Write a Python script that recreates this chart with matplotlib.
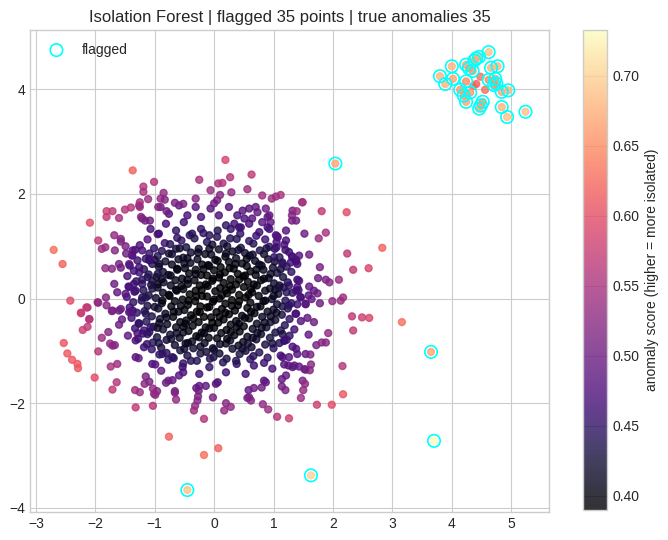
import numpy as np
import matplotlib
matplotlib.use("Agg")
import matplotlib.pyplot as plt

# (x, y, anomaly score)
core_pts = [
    (-0.95, 1.23, .48), (-0.62, 1.16, .45), (-0.41, 1.21, .45), (-0.18, 1.25, .45), (0.05, 1.18, .44), (0.27, 1.15, .44), (0.44, 1.24, .45), (0.71, 1.20, .46),
    (-1.12, 1.13, .48), (-0.83, 1.06, .46), (-0.55, 1.11, .45), (-0.33, 1.15, .44), (-0.12, 1.08, .44), (0.16, 1.05, .43), (0.38, 1.14, .44), (0.59, 1.10, .45), (0.86, 1.13, .46), (1.05, 1.08, .47),
    (-1.25, 1.02, .47), (-1.01, 0.96, .45), (-0.74, 1.04, .44), (-0.47, 0.98, .43), (-0.26, 0.95, .42), (-0.03, 1.03, .42), (0.22, 1.00, .42), (0.45, 0.97, .43), (0.66, 1.05, .44), (0.93, 0.99, .45), (1.18, 1.03, .47),
    (-1.33, 0.93, .47), (-1.09, 0.86, .45), (-0.88, 0.91, .44), (-0.64, 0.95, .43), (-0.39, 0.88, .42), (-0.15, 0.85, .41), (0.08, 0.94, .41), (0.31, 0.90, .41), (0.52, 0.87, .42), (0.77, 0.92, .43), (1.02, 0.95, .45), (1.26, 0.89, .46),
    (-1.38, 0.83, .47), (-1.15, 0.76, .45), (-0.95, 0.81, .44), (-0.71, 0.85, .42), (-0.52, 0.78, .42), (-0.28, 0.75, .41), (-0.05, 0.84, .41), (0.19, 0.80, .40), (0.37, 0.77, .41), (0.60, 0.82, .41), (0.84, 0.85, .42), (1.10, 0.79, .44), (1.31, 0.81, .46),
    (-1.29, 0.73, .46), (-1.04, 0.66, .44), (-0.82, 0.71, .42), (-0.60, 0.75, .41), (-0.40, 0.68, .41), (-0.20, 0.65, .40), (0.02, 0.74, .40), (0.25, 0.70, .40), (0.47, 0.67, .40), (0.69, 0.72, .41), (0.91, 0.75, .42), (1.15, 0.69, .44), (1.38, 0.71, .46),
    (-1.42, 0.63, .47), (-1.18, 0.56, .44), (-0.93, 0.61, .42), (-0.71, 0.65, .41), (-0.49, 0.58, .40), (-0.31, 0.55, .40), (-0.10, 0.64, .40), (0.11, 0.60, .39), (0.33, 0.57, .40), (0.55, 0.62, .40), (0.76, 0.65, .41), (0.99, 0.59, .42), (1.22, 0.61, .44),
    (-1.35, 0.53, .46), (-1.10, 0.46, .44), (-0.86, 0.51, .42), (-0.62, 0.55, .41), (-0.42, 0.48, .40), (-0.22, 0.45, .40), (0.00, 0.54, .40), (0.18, 0.50, .39), (0.40, 0.47, .39), (0.61, 0.52, .40), (0.83, 0.55, .41), (1.06, 0.49, .43), (1.30, 0.51, .45),
    (-1.46, 0.43, .47), (-1.21, 0.36, .44), (-0.97, 0.41, .42), (-0.77, 0.45, .41), (-0.54, 0.38, .40), (-0.33, 0.35, .40), (-0.12, 0.44, .39), (0.08, 0.40, .39), (0.28, 0.37, .39), (0.49, 0.42, .40), (0.70, 0.45, .40), (0.92, 0.39, .41), (1.16, 0.41, .43), (1.40, 0.36, .46),
    (-1.31, 0.33, .45), (-1.06, 0.26, .43), (-0.85, 0.31, .42), (-0.65, 0.35, .41), (-0.44, 0.28, .40), (-0.24, 0.25, .39), (-0.03, 0.34, .39), (0.16, 0.30, .39), (0.37, 0.27, .39), (0.57, 0.32, .40), (0.79, 0.35, .40), (1.01, 0.29, .42), (1.24, 0.31, .44),
    (-1.44, 0.23, .46), (-1.19, 0.16, .44), (-0.95, 0.21, .42), (-0.73, 0.25, .41), (-0.52, 0.18, .40), (-0.31, 0.15, .39), (-0.11, 0.24, .39), (0.10, 0.20, .39), (0.30, 0.17, .39), (0.50, 0.22, .39), (0.72, 0.25, .40), (0.94, 0.19, .41), (1.17, 0.21, .43), (1.42, 0.16, .46),
    (-1.34, 0.13, .45), (-1.10, 0.06, .43), (-0.86, 0.11, .41), (-0.63, 0.15, .40), (-0.41, 0.08, .39), (-0.20, 0.05, .39), (0.02, 0.14, .39), (0.22, 0.10, .39), (0.42, 0.07, .39), (0.64, 0.12, .40), (0.86, 0.15, .41), (1.08, 0.09, .42), (1.32, 0.11, .45),
    (-1.47, 0.03, .47), (-1.22, -0.04, .44), (-0.98, 0.01, .42), (-0.75, 0.05, .40), (-0.53, -0.02, .40), (-0.32, -0.05, .39), (-0.12, 0.04, .39), (0.09, 0.00, .392), (0.30, -0.03, .39), (0.53, 0.02, .39), (0.75, 0.05, .40), (0.97, -0.01, .42), (1.20, -0.04, .44), (1.45, 0.03, .46),
    (-1.36, -0.07, .45), (-1.12, -0.14, .43), (-0.88, -0.09, .41), (-0.66, -0.05, .40), (-0.44, -0.12, .39), (-0.23, -0.15, .39), (-0.02, -0.06, .39), (0.19, -0.10, .39), (0.40, -0.13, .39), (0.61, -0.08, .40), (0.83, -0.05, .41), (1.06, -0.11, .42), (1.30, -0.09, .45),
    (-1.42, -0.17, .46), (-1.17, -0.24, .44), (-0.94, -0.19, .42), (-0.72, -0.15, .40), (-0.50, -0.22, .40), (-0.29, -0.25, .39), (-0.08, -0.16, .39), (0.13, -0.20, .39), (0.35, -0.23, .39), (0.56, -0.18, .40), (0.78, -0.15, .40), (1.00, -0.21, .42), (1.24, -0.19, .44),
    (-1.30, -0.27, .45), (-1.05, -0.34, .43), (-0.82, -0.29, .41), (-0.60, -0.25, .40), (-0.39, -0.32, .39), (-0.17, -0.35, .39), (0.04, -0.26, .39), (0.25, -0.30, .39), (0.47, -0.33, .40), (0.68, -0.28, .40), (0.90, -0.25, .41), (1.14, -0.31, .43), (1.37, -0.29, .46),
    (-1.39, -0.37, .46), (-1.14, -0.44, .44), (-0.91, -0.39, .42), (-0.69, -0.35, .40), (-0.47, -0.42, .40), (-0.26, -0.45, .39), (-0.05, -0.36, .39), (0.16, -0.40, .39), (0.37, -0.43, .40), (0.59, -0.38, .40), (0.81, -0.35, .41), (1.03, -0.41, .42), (1.27, -0.39, .45),
    (-1.27, -0.47, .45), (-1.02, -0.54, .43), (-0.79, -0.49, .41), (-0.57, -0.45, .40), (-0.36, -0.52, .40), (-0.14, -0.55, .40), (0.07, -0.46, .39), (0.28, -0.50, .40), (0.50, -0.53, .40), (0.72, -0.48, .41), (0.95, -0.45, .42), (1.19, -0.51, .44),
    (-1.33, -0.57, .46), (-1.09, -0.64, .44), (-0.86, -0.59, .42), (-0.64, -0.55, .41), (-0.43, -0.62, .40), (-0.21, -0.65, .40), (0.00, -0.56, .40), (0.21, -0.60, .40), (0.43, -0.63, .40), (0.65, -0.58, .41), (0.88, -0.55, .42), (1.12, -0.61, .44), (1.35, -0.59, .46),
    (-1.20, -0.67, .45), (-0.96, -0.74, .43), (-0.74, -0.69, .42), (-0.52, -0.65, .41), (-0.30, -0.72, .40), (-0.09, -0.75, .40), (0.12, -0.66, .40), (0.34, -0.70, .40), (0.56, -0.73, .41), (0.79, -0.68, .42), (1.03, -0.65, .43), (1.27, -0.71, .45),
    (-1.28, -0.77, .46), (-1.03, -0.84, .44), (-0.80, -0.79, .42), (-0.58, -0.75, .41), (-0.37, -0.82, .41), (-0.16, -0.85, .41), (0.05, -0.76, .40), (0.27, -0.80, .41), (0.49, -0.83, .41), (0.71, -0.78, .42), (0.94, -0.75, .43), (1.18, -0.81, .45),
    (-1.13, -0.87, .45), (-0.89, -0.94, .43), (-0.66, -0.89, .42), (-0.44, -0.85, .41), (-0.23, -0.92, .41), (-0.02, -0.95, .41), (0.20, -0.86, .41), (0.41, -0.90, .41), (0.63, -0.93, .42), (0.86, -0.88, .43), (1.10, -0.85, .44),
    (-1.05, -0.97, .45), (-0.80, -1.04, .44), (-0.57, -0.99, .43), (-0.35, -0.95, .42), (-0.13, -1.02, .42), (0.09, -1.05, .42), (0.31, -0.96, .42), (0.53, -1.00, .43), (0.76, -1.03, .44), (1.00, -0.95, .45),
    (-0.92, -1.07, .45), (-0.68, -1.14, .44), (-0.45, -1.09, .43), (-0.23, -1.05, .43), (-0.01, -1.12, .43), (0.21, -1.15, .43), (0.43, -1.06, .43), (0.66, -1.10, .44), (0.90, -1.13, .45),
    (-0.77, -1.17, .45), (-0.52, -1.24, .45), (-0.29, -1.19, .44), (-0.07, -1.15, .44), (0.15, -1.22, .44), (0.38, -1.25, .45), (0.61, -1.16, .45), (0.84, -1.23, .46),
    (-0.76, 0.86, .42), (-0.27, 0.88, .41), (0.20, 0.86, .41), (0.65, 0.84, .42),
    (-0.92, 0.66, .42), (-0.50, 0.67, .41), (-0.08, 0.62, .40), (0.36, 0.66, .40), (0.80, 0.63, .41),
    (-0.73, 0.44, .41), (-0.31, 0.47, .40), (0.10, 0.46, .39), (0.52, 0.44, .39), (0.95, 0.47, .41),
    (-0.95, 0.27, .41), (-0.55, 0.24, .40), (-0.14, 0.27, .39), (0.27, 0.24, .39), (0.67, 0.27, .40), (1.10, 0.25, .42),
    (-0.76, 0.07, .40), (-0.30, 0.04, .39), (0.13, 0.06, .39), (0.58, 0.07, .39), (1.00, 0.05, .41),
    (-1.00, -0.16, .42), (-0.56, -0.14, .40), (-0.12, -0.17, .39), (0.30, -0.14, .39), (0.72, -0.16, .40), (1.15, -0.15, .43),
    (-0.80, -0.36, .41), (-0.35, -0.38, .39), (0.09, -0.35, .39), (0.52, -0.37, .40), (0.95, -0.34, .41),
    (-0.95, -0.56, .42), (-0.52, -0.54, .40), (-0.08, -0.57, .40), (0.38, -0.55, .40), (0.80, -0.56, .41),
    (-0.72, -0.77, .42), (-0.25, -0.74, .40), (0.22, -0.77, .40), (0.65, -0.75, .41),
    (-0.50, -0.96, .42), (0.00, -0.98, .42), (0.48, -0.96, .42),
    (-0.58, 0.96, .42), (-0.08, 0.95, .41), (0.41, 0.93, .42), (0.88, 0.96, .43),
    (-1.00, 0.74, .43), (-0.45, 0.77, .41), (0.06, 0.72, .40), (0.55, 0.76, .40), (1.02, 0.71, .42),
    (-0.62, 0.57, .40), (-0.18, 0.56, .40), (0.26, 0.58, .39), (0.71, 0.55, .40), (1.12, 0.56, .42),
    (-0.88, 0.37, .41), (-0.45, 0.36, .40), (-0.02, 0.38, .39), (0.42, 0.36, .39), (0.84, 0.38, .40),
    (-0.64, 0.17, .40), (-0.21, 0.16, .39), (0.20, 0.16, .39), (0.62, 0.18, .39), (1.03, 0.17, .41),
    (-0.87, -0.04, .40), (-0.43, -0.04, .39), (0.00, -0.02, .39), (0.42, -0.05, .39), (0.86, -0.04, .40),
    (-0.68, -0.25, .40), (-0.24, -0.26, .39), (0.19, -0.27, .39), (0.62, -0.25, .39), (1.05, -0.27, .41),
    (-0.92, -0.47, .41), (-0.48, -0.48, .40), (-0.03, -0.46, .39), (0.42, -0.48, .40), (0.85, -0.46, .41),
    (-0.63, -0.66, .41), (-0.17, -0.66, .40), (0.28, -0.64, .40), (0.73, -0.66, .41), (1.15, -0.68, .43),
    (-0.93, -0.85, .43), (-0.48, -0.86, .41), (0.10, -0.87, .41), (0.57, -0.86, .42), (0.98, -0.86, .43),
]

mid_pts = [
    (0.87, 1.72, .50), (0.90, 1.56, .49), (0.81, 1.46, .48), (0.95, 1.46, .49), (0.93, 1.33, .47), (0.73, 1.65, .49), (0.64, 1.53, .48), (0.59, 1.43, .47),
    (0.48, 1.68, .48), (0.51, 1.53, .47), (0.42, 1.36, .46), (0.34, 1.43, .46), (0.28, 1.33, .45), (1.07, 1.17, .47), (1.21, 1.11, .47), (1.05, 0.98, .46),
    (1.01, 0.79, .45), (1.15, 0.66, .45),
    (-1.26, 1.78, .51), (-0.90, 1.75, .50), (-0.76, 1.62, .48), (-0.59, 1.78, .49), (-0.45, 1.59, .47), (-0.31, 1.75, .48), (-0.22, 1.56, .47), (-0.06, 1.72, .48),
    (0.08, 1.59, .47), (0.25, 1.75, .48), (0.39, 1.59, .47), (0.59, 1.72, .48), (0.70, 1.75, .49), (0.93, 1.59, .49), (1.32, 1.68, .51), (1.49, 1.84, .53),
    (-1.21, 1.53, .49), (-1.07, 1.33, .47), (-0.93, 1.24, .46), (-0.81, 1.43, .47), (-0.64, 1.30, .45), (-0.51, 1.46, .46), (-0.37, 1.24, .44), (-0.22, 1.33, .45),
    (-0.08, 1.21, .44), (0.06, 1.30, .44), (0.20, 1.40, .45), (0.45, 1.36, .46), (0.76, 1.27, .46), (0.90, 1.36, .47), (1.04, 1.21, .47), (1.21, 1.30, .48),
    (1.38, 1.49, .50), (1.52, 1.24, .50),
    (-1.32, -1.12, .48), (-1.18, -0.93, .46), (-1.04, -1.25, .47), (-0.87, -1.06, .45), (-0.70, -1.12, .45), (-0.53, -1.31, .46), (-0.39, -1.19, .44), (-0.25, -1.44, .46),
    (-0.08, -1.31, .45), (0.06, -1.60, .47), (0.20, -1.41, .46), (0.37, -1.19, .44), (0.53, -1.44, .46), (0.67, -1.28, .46), (0.84, -1.57, .48), (0.98, -1.34, .47),
    (1.15, -1.12, .47), (1.32, -1.31, .48), (1.49, -1.57, .51), (1.54, -1.06, .49),
    (-1.37, 0.92, .48), (-1.26, 0.60, .46), (-1.35, 0.28, .46), (-1.21, 0.02, .44), (-1.37, -0.23, .46), (-1.26, -0.48, .45), (-1.12, -0.68, .45), (-1.32, -0.80, .47),
    (-1.09, 0.73, .45), (-1.04, 0.34, .43), (-1.15, -0.29, .44),
    (-1.68, 0.28, .50), (-1.63, 0.12, .49), (-1.49, 0.09, .48), (-1.43, 0.22, .47), (-1.82, 0.02, .52), (-1.96, -0.07, .54), (-2.13, -0.17, .56), (-2.24, -0.28, .58),
    (-2.10, -0.39, .56), (-1.71, -0.23, .50), (-1.57, -0.20, .49), (-1.43, -0.26, .48), (-1.32, 0.15, .46), (-1.21, 0.28, .45), (-1.15, 0.02, .44), (-1.04, 0.19, .43),
    (-0.95, 0.47, .43), (-1.12, 0.41, .44), (-1.26, 0.50, .46), (-1.43, 0.66, .48), (-1.38, 0.82, .48), (-1.21, 0.92, .47), (-1.09, 0.76, .46),
    (1.43, 0.82, .48), (1.38, 0.74, .47), (1.32, 0.79, .47), (1.29, 0.69, .46), (1.40, 0.66, .47), (1.20, 0.93, .46), (1.60, 0.84, .50), (1.78, 0.60, .51),
    (1.75, 0.39, .50), (1.88, 0.36, .51), (1.94, 0.31, .52), (2.10, 0.36, .54), (1.60, 0.23, .49), (1.68, 0.15, .49), (1.74, 0.10, .50), (1.78, -0.09, .50),
    (1.99, -0.05, .53), (2.13, -0.04, .54), (2.17, 0.02, .54), (1.43, 0.34, .47), (1.40, 0.22, .47), (1.38, 0.15, .46), (1.46, 0.02, .47), (1.54, -0.10, .48),
    (1.26, 0.25, .45), (1.22, 0.12, .44), (1.09, 0.21, .43), (1.59, 0.06, .48), (1.64, -0.01, .49), (1.46, -0.43, .48), (1.57, -0.37, .49), (1.68, -0.45, .50),
    (1.38, -0.29, .47), (1.26, -0.13, .45), (1.40, -0.11, .46), (1.54, -0.11, .48), (1.92, -0.66, .53), (1.59, -0.69, .49), (1.72, -0.89, .51), (1.81, -0.84, .52),
    (1.88, -0.84, .52), (1.62, -1.07, .51), (1.63, -1.26, .52), (1.54, -1.36, .51), (1.61, -1.37, .52), (1.18, -0.80, .46), (1.22, -0.79, .46), (1.12, -1.09, .47),
    (1.26, -1.12, .48), (1.38, -0.96, .48), (1.32, -0.92, .47), (1.40, -1.06, .48), (1.18, -1.26, .48), (1.25, -1.28, .48), (1.35, -1.28, .49), (1.43, -1.30, .49),
    (1.52, -1.35, .50), (1.14, -1.54, .49), (1.21, -1.47, .49), (1.14, -1.68, .50), (1.20, -1.75, .51), (1.53, -1.63, .53), (1.50, -1.75, .53), (1.46, -1.90, .54),
    (0.87, -1.60, .49), (0.80, -1.70, .50), (0.58, -1.75, .49), (0.67, -1.71, .50), (0.59, -1.89, .51), (0.91, -2.12, .54), (0.82, -2.02, .53), (0.62, -1.95, .52),
    (0.56, -1.90, .51), (0.20, -2.00, .52), (0.28, -2.07, .53), (0.17, -2.14, .53), (-0.02, -1.89, .51), (0.03, -1.63, .48), (-0.14, -1.67, .49), (-0.25, -1.67, .49),
    (-0.30, -1.71, .49), (-0.26, -1.76, .50), (-0.27, -1.87, .51), (-0.28, -1.95, .52), (-0.32, -2.05, .53), (-0.34, -2.14, .54), (-0.64, -1.93, .53), (-0.66, -1.80, .52),
    (-0.52, -1.41, .47), (-0.59, -1.47, .48), (-0.66, -1.77, .51), (-0.70, -1.56, .49), (-0.77, -1.57, .50), (-0.81, -1.61, .50), (-0.89, -1.38, .49), (-0.99, -1.26, .48),
    (-1.09, -1.59, .51), (-1.17, -1.63, .52), (-1.15, -1.49, .51), (-1.27, -1.14, .49),
    (-1.45, -0.71, .49), (-1.29, -0.66, .47), (-1.18, -0.61, .46), (-1.07, -0.55, .45), (-1.95, -0.08, .53), (-1.81, -0.13, .52), (-1.72, -0.24, .51), (-1.60, -0.23, .50),
    (-1.40, -0.26, .48), (-1.55, -0.40, .49), (-1.60, -0.50, .50), (-1.78, -0.64, .52), (-1.89, -0.75, .54), (-1.75, -0.86, .53), (-1.71, -0.90, .53), (-1.67, -0.89, .52),
    (-1.74, -1.30, .55), (-1.63, -1.25, .54), (-1.64, -1.60, .56), (-1.71, -1.74, .57), (-1.33, -1.75, .54), (-1.25, -1.79, .54), (-1.03, -1.72, .53), (-0.99, -1.84, .53),
    (-0.96, -1.77, .52), (-1.01, -1.82, .53),
    (-1.89, 0.95, .54), (-1.83, 0.98, .54), (-1.81, 1.67, .58), (-1.71, 1.67, .57), (-1.81, 1.56, .57), (-1.60, 1.54, .55), (-1.50, 1.70, .56), (-1.40, 1.74, .56),
    (-1.25, 1.84, .55), (-1.25, 1.75, .54), (-1.11, 1.90, .54), (-0.94, 1.75, .52), (-0.80, 1.67, .50), (-0.66, 1.83, .51), (-0.52, 1.81, .51), (-1.23, 1.56, .52),
    (-1.16, 1.49, .51), (-1.08, 1.49, .50), (-1.68, 1.21, .53), (-1.57, 1.14, .52), (-1.57, 1.09, .52), (-1.67, 0.92, .52), (-1.49, 1.00, .51), (-1.48, 0.86, .50),
    (-1.60, 0.66, .51), (-1.57, 0.59, .50), (-1.83, 0.58, .53), (-1.72, 0.57, .52),
    (-0.06, 2.07, .54), (0.07, 2.20, .55), (0.14, 2.21, .56), (0.10, 1.98, .52), (0.05, 1.88, .51), (0.00, 1.82, .50), (-0.31, 1.91, .52), (0.27, 2.32, .56),
    (0.29, 2.03, .53), (0.56, 2.09, .54), (0.81, 1.97, .54), (0.97, 1.91, .54), (1.04, 1.95, .54), (1.12, 1.98, .55), (1.39, 1.67, .54), (1.31, 1.59, .52),
    (1.31, 1.49, .51), (1.06, 1.19, .48), (1.88, 1.26, .55), (1.76, 1.15, .54), (1.48, 1.84, .55),
]

outer_pts = [
    (-1.37, 2.45, .62), (-2.09, 1.45, .60), (-2.70, 0.93, .63), (-2.55, 0.66, .62), (-1.95, 1.11, .57), (-1.19, 2.14, .56), (-1.19, 2.04, .55), (-1.01, 2.23, .56),
    (-0.85, 2.02, .53), (-0.90, 1.91, .53), (-0.83, 1.89, .52), (-0.25, 2.27, .55), (0.19, 2.65, .59), (0.63, 2.37, .57), (1.81, 1.67, .57), (2.23, 1.65, .60),
    (2.83, 0.97, .62), (2.24, 0.86, .57), (2.34, 0.55, .57), (2.60, 0.58, .59), (2.32, -0.34, .57), (2.49, -0.36, .58), (2.61, -0.37, .59), (3.16, -0.45, .63),
    (2.34, -0.61, .57), (2.16, -1.29, .56), (2.17, -1.83, .61), (1.98, -2.03, .60), (1.73, -2.03, .58), (1.26, -2.29, .58), (1.06, -2.26, .56), (-0.17, -2.30, .56),
    (0.07, -2.86, .62), (-0.17, -2.99, .63), (-0.76, -2.64, .62), (-1.32, -2.08, .57), (-1.03, -2.05, .56), (-2.01, -1.51, .60), (-1.95, -1.01, .56), (-2.53, -0.85, .61),
    (-2.47, -1.05, .61), (-2.39, -1.17, .61), (-2.30, -1.25, .61), (-2.29, -1.33, .61), (-2.24, -0.27, .58), (-2.10, -0.40, .56), (-2.21, -0.60, .58), (-2.13, -0.54, .57),
    (-2.42, -0.04, .60), (-2.15, -0.17, .57),
]

cluster_pts = [(4.48, 4.24, .63), (4.41, 4.10, .62), (4.36, 4.06, .62), (4.56, 3.99, .63)]

flagged_pts = [
    (2.04, 2.58, .67), (3.65, -1.02, .67), (3.70, -2.72, .733), (1.63, -3.38, .70), (-0.45, -3.66, .69), (5.24, 3.57, .69),
    (4.62, 4.71, .69), (4.41, 4.59, .68), (4.46, 4.62, .68), (4.00, 4.44, .68), (4.24, 4.47, .67), (4.29, 4.40, .66),
    (4.35, 4.35, .66), (4.66, 4.41, .68), (4.77, 4.44, .68), (3.80, 4.25, .68), (3.89, 4.10, .68), (4.02, 4.20, .67),
    (4.24, 4.15, .65), (4.14, 3.99, .66), (4.31, 3.94, .66), (4.73, 4.20, .66), (4.75, 4.11, .66), (4.71, 4.08, .65),
    (4.84, 3.95, .67), (4.95, 3.98, .68), (4.24, 3.76, .67), (4.52, 3.76, .66), (4.49, 3.69, .66), (4.46, 3.63, .67),
    (4.84, 3.66, .68), (4.93, 3.47, .69), (4.38, 4.55, .67), (4.62, 4.18, .65), (4.20, 3.88, .66),
]

n_true = 35

allp = np.array(core_pts + mid_pts + outer_pts + cluster_pts + flagged_pts)
fl = np.array(flagged_pts)
x, y, score = allp[:, 0], allp[:, 1], allp[:, 2]

plt.style.use('seaborn-v0_8-whitegrid')
fig = plt.figure(figsize=(6.68, 5.4), dpi=100)
ax = fig.add_axes([0.045, 0.052, 0.777, 0.892])
cax = fig.add_axes([0.873, 0.056, 0.036, 0.889])

sc = ax.scatter(x, y, c=score, cmap='magma', s=25, alpha=0.8)
ax.scatter(fl[:, 0], fl[:, 1], s=80, facecolors='none', edgecolors='cyan',
           linewidths=1.2, label='flagged')
ax.set_title(f'Isolation Forest | flagged {len(fl)} points | true anomalies {n_true}')
ax.legend(loc='upper left')

cb = fig.colorbar(sc, cax=cax)
cb.set_label('anomaly score (higher = more isolated)')

fig.savefig('out.png', dpi=100)
